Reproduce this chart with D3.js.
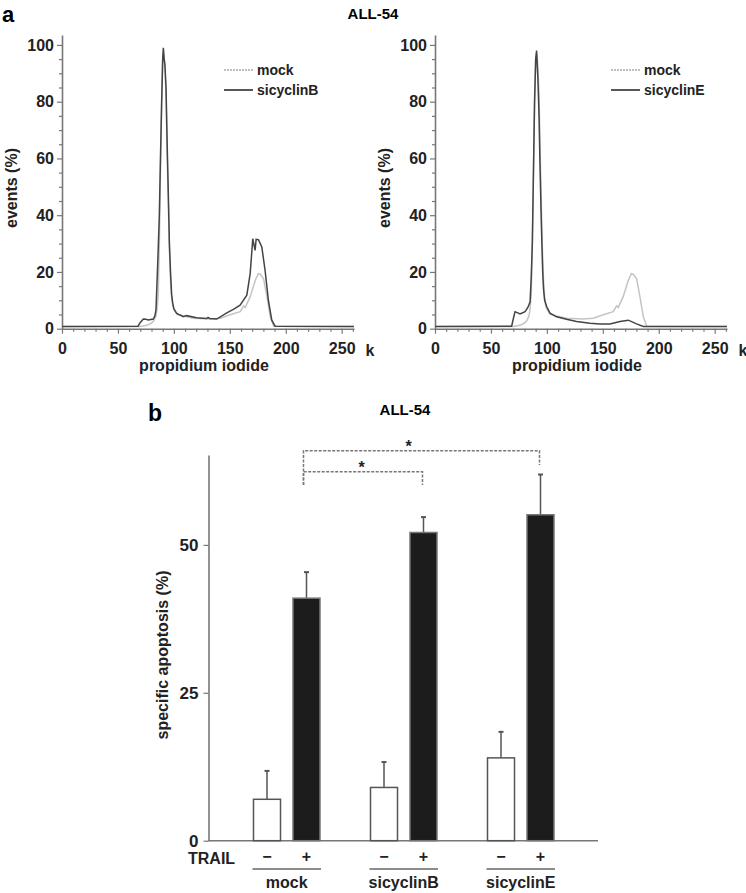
<!DOCTYPE html>
<html><head><meta charset="utf-8">
<script src="https://cdn.jsdelivr.net/npm/d3@7"></script>
<style>
body{margin:0;background:#fff;}
svg{display:block;font-family:"Liberation Sans",Arial,Helvetica,sans-serif;font-weight:bold;}
</style></head>
<body>
<script>
// ---------- DATA ----------
// Panel a: DNA content histograms, [propidium iodide (k), events (%)]
const mockEvents = [[0,0.8],[70,0.8],[76,1.2],[80,2.0],[82,2.8],[84,4.5],[85,7],[86,12],[87,30],[88,55],[89,80],[90,95],[90.8,97],[91.5,95],[92,92],[93,82],[94,62],[95,45],[96,28],[97,17],[98,11],[99,8],[100,6.8],[103,5.1],[108.7,4.5],[117.6,3.7],[132.5,3.4],[141.4,3.7],[150.4,4.9],[159.3,6.0],[162.3,8.0],[163.8,7.5],[168.2,11.3],[172.8,17.1],[175.5,19.4],[177.2,19.2],[180.2,17.6],[183.2,11.2],[186.2,4.2],[189.2,0.9],[261,0.8]];
const sicyclinBEvents = [[0,0.8],[68,0.9],[70,2.2],[72.7,3.4],[75,3.3],[77.1,3.1],[81.6,3.4],[83,4.5],[84,6.6],[85,17],[86,28],[87,40],[88,60],[89,78],[90,95],[90.6,99],[91.3,95],[92,93],[93,85],[94,65],[95,48],[96,30],[97,20],[98,12],[99,9],[100,7],[102.5,5.4],[108.4,4.2],[111.4,4.6],[120.3,3.9],[129.3,3.6],[130.5,4.0],[132,3.6],[138.3,3.4],[147.3,5.6],[153.2,6.8],[159.2,8.3],[165.2,11.8],[168.2,19.4],[170.5,31.7],[172.6,27.6],[173.5,31.5],[175.6,31.4],[178.6,28.8],[181.5,20.6],[184.5,10],[187.5,3],[190.5,0.9],[261,0.8]];
const sicyclinEEvents = [[0,0.8],[68.5,0.9],[70,3.5],[71.5,6.0],[74,5.6],[76,5.2],[80.5,6.0],[83,7.5],[85,9.5],[86,18],[87,30],[88,55],[89,80],[90,95],[90.8,98],[91.5,92],[92,88],[93,75],[94,55],[95,38],[96.2,20.7],[97,14],[98,10],[99.8,7.8],[102.8,5.5],[108.7,4.2],[117.6,3.3],[126.6,2.5],[138.5,1.9],[147.5,1.7],[156.4,1.7],[165.3,2.5],[172.8,3.0],[180.2,1.7],[186.2,0.8],[261,0.8]];
const piTicks = [0,50,100,150,200,250];
const eventTicks = [0,20,40,60,80,100];
const histPanels = [
  {treated:"sicyclinB", values:sicyclinBEvents},
  {treated:"sicyclinE", values:sicyclinEEvents}
];

// Panel b: specific apoptosis (%)
const groups = ["mock","sicyclinB","sicyclinE"];
const trailLevels = ["−","+"];
const apoptosisNoTrail = [7.0, 9.0, 14.0];
const apoptosisNoTrailErr = [4.8, 4.3, 4.4];
const apoptosisTrail = [41.0, 52.1, 55.1];
const apoptosisTrailErr = [4.4, 2.6, 6.8];
const apoptosisTicks = [0,25,50];

// ---------- DRAW ----------
const W = 746, H = 893;
const svg = d3.select("body").append("svg").attr("width",W).attr("height",H);
const axisColor = "#777";

svg.append("text").attr("x",2).attr("y",22).attr("font-size",22).text("a");
svg.append("text").attr("x",373).attr("y",19).attr("text-anchor","middle").attr("font-size",15).text("ALL-54");

histPanels.forEach((p,i)=>{
  const ox = i*373;
  const g = svg.append("g").attr("transform",`translate(${ox},0)`);
  const x = d3.scaleLinear().domain([0,261]).range([62,354]);
  const y = d3.scaleLinear().domain([0,103.5]).range([328.7,35]);

  // minor ticks
  const xMinor = d3.range(0,261,10).filter(v=>v%50!==0);
  const yMinor = d3.range(0,101,5).filter(v=>v%20!==0);
  g.append("g").attr("transform",`translate(0,${y(0)})`)
    .call(d3.axisBottom(x).tickValues(xMinor).tickSize(3).tickFormat("").tickSizeOuter(0))
    .call(a=>a.select(".domain").remove());
  g.append("g").attr("transform",`translate(${x(0)},0)`)
    .call(d3.axisLeft(y).tickValues(yMinor).tickSize(3).tickFormat("").tickSizeOuter(0))
    .call(a=>a.select(".domain").remove());
  // major axes
  const xa = g.append("g").attr("transform",`translate(0,${y(0)})`)
    .call(d3.axisBottom(x).tickValues(piTicks).tickSize(5).tickSizeOuter(0).tickPadding(9));
  const ya = g.append("g").attr("transform",`translate(${x(0)},0)`)
    .call(d3.axisLeft(y).tickValues(eventTicks).tickSize(5).tickSizeOuter(0).tickPadding(3));
  [xa,ya].forEach(a=>{
    a.selectAll("text").attr("font-size",16).attr("font-family",null).attr("fill","#222");
  });
  g.selectAll(".domain").attr("stroke",axisColor).attr("stroke-width",1.6);
  g.selectAll(".tick line").attr("stroke",axisColor).attr("stroke-width",1.2);

  g.append("text").attr("x",370).attr("y",356).attr("text-anchor","middle").attr("font-size",16).attr("fill","#222").text("k");
  g.append("text").attr("x",204).attr("y",371).attr("text-anchor","middle").attr("font-size",16).attr("fill","#222").text("propidium iodide");
  g.append("text").attr("transform",`translate(17,188) rotate(-90)`).attr("text-anchor","middle").attr("font-size",16).attr("fill","#222").text("events (%)");

  const line = d3.line().x(d=>x(d[0])).y(d=>y(d[1]));
  g.append("path").datum(mockEvents).attr("d",line).attr("fill","none").attr("stroke","#c4c4c4").attr("stroke-width",1.5);
  g.append("path").datum(p.values).attr("d",line).attr("fill","none").attr("stroke","#444").attr("stroke-width",1.5);

  // legend
  const lx = i===0 ? 224 : 238;
  const lg = g.append("g");
  lg.append("line").attr("x1",lx).attr("x2",lx+29).attr("y1",70).attr("y2",70).attr("stroke","#aaa").attr("stroke-width",1.5).attr("stroke-dasharray","2,1");
  lg.append("line").attr("x1",lx).attr("x2",lx+29).attr("y1",90).attr("y2",90).attr("stroke","#444").attr("stroke-width",1.8);
  lg.append("text").attr("x",lx+33).attr("y",75).attr("font-size",14).attr("fill","#222").text("mock");
  lg.append("text").attr("x",lx+33).attr("y",95).attr("font-size",14).attr("fill","#222").text(p.treated);
});

// ---------- Panel b ----------
svg.append("text").attr("x",148).attr("y",421).attr("font-size",23).text("b");
svg.append("text").attr("x",405).attr("y",415).attr("text-anchor","middle").attr("font-size",15).text("ALL-54");

const gb = svg.append("g");
const yb = d3.scaleLinear().domain([0,65.2]).range([840.7,455]);
const xg = d3.scaleBand().domain(groups).range([228.5,579.5]).padding(0);
const xs = d3.scaleBand().domain(trailLevels).range([25,91.5]).paddingInner(0.316).paddingOuter(0);

// axes
gb.append("line").attr("x1",208.5).attr("x2",598).attr("y1",yb(0)).attr("y2",yb(0)).attr("stroke",axisColor).attr("stroke-width",1.6);
const yax = gb.append("g").attr("transform",`translate(208.5,0)`)
  .call(d3.axisLeft(yb).tickValues(apoptosisTicks).tickSize(5).tickSizeOuter(0).tickPadding(5));
yax.select(".domain").attr("stroke",axisColor).attr("stroke-width",1.6);
yax.selectAll(".tick line").attr("stroke",axisColor).attr("stroke-width",1.2);
yax.selectAll("text").attr("font-size",17).attr("font-family",null).attr("fill","#222");
gb.append("text").attr("transform",`translate(168,655) rotate(-90)`).attr("text-anchor","middle").attr("font-size",16).attr("fill","#222").text("specific apoptosis (%)");

const barData = [];
groups.forEach((gname,i)=>{
  barData.push({g:gname,t:"−",v:apoptosisNoTrail[i],e:apoptosisNoTrailErr[i]});
  barData.push({g:gname,t:"+",v:apoptosisTrail[i],e:apoptosisTrailErr[i]});
});
const bx = d=>xg(d.g)+xs(d.t);
// error bars
barData.forEach(d=>{
  const cx = bx(d)+xs.bandwidth()/2;
  gb.append("line").attr("x1",cx).attr("x2",cx).attr("y1",yb(d.v)).attr("y2",yb(d.v+d.e)).attr("stroke","#555").attr("stroke-width",1.5);
  gb.append("line").attr("x1",cx-2.5).attr("x2",cx+2.5).attr("y1",yb(d.v+d.e)).attr("y2",yb(d.v+d.e)).attr("stroke","#555").attr("stroke-width",2);
});
gb.selectAll("rect.bar").data(barData).join("rect").attr("class","bar")
  .attr("x",bx).attr("width",xs.bandwidth())
  .attr("y",d=>yb(d.v)).attr("height",d=>yb(0)-yb(d.v))
  .attr("fill",d=>d.t==="+"?"#1c1c1c":"#fff")
  .attr("stroke",d=>d.t==="+"?"#777":"#555").attr("stroke-width",1.5);

// TRAIL row and group labels
gb.append("text").attr("x",188).attr("y",864).attr("font-size",16).attr("fill","#222").text("TRAIL");
barData.forEach(d=>{
  gb.append("text").attr("x",bx(d)+xs.bandwidth()/2).attr("y",862).attr("text-anchor","middle").attr("font-size",16).attr("fill","#222").text(d.t);
});
groups.forEach(gname=>{
  const x0 = xg(gname)+xs(trailLevels[0]), x1 = xg(gname)+xs(trailLevels[1])+xs.bandwidth();
  gb.append("line").attr("x1",x0-1).attr("x2",x1+1).attr("y1",869).attr("y2",869).attr("stroke","#666").attr("stroke-width",1.3);
  gb.append("text").attr("x",(x0+x1)/2).attr("y",888).attr("text-anchor","middle").attr("font-size",16).attr("fill","#222").text(gname);
});

// significance brackets
const cxPlus = gname=>xg(gname)+xs("+")+xs.bandwidth()/2;
const bracket = (from,to,yTop,yLeftEnd,yRightEnd,starX)=>{
  const xa = cxPlus(from)-3, xb2 = cxPlus(to)-1;
  gb.append("path").attr("d",`M${xa},${yLeftEnd}V${yTop}H${xb2}V${yRightEnd}`)
    .attr("fill","none").attr("stroke","#777").attr("stroke-width",1.5).attr("stroke-dasharray","3,1.5");
  gb.append("text").attr("x",xa+starX).attr("y",yTop+1).attr("text-anchor","middle").attr("font-size",16).attr("fill","#222").text("*");
};
bracket("mock","sicyclinE",450.7,485,465,105);
bracket("mock","sicyclinB",471.7,485,485,58);
</script>
</body></html>
